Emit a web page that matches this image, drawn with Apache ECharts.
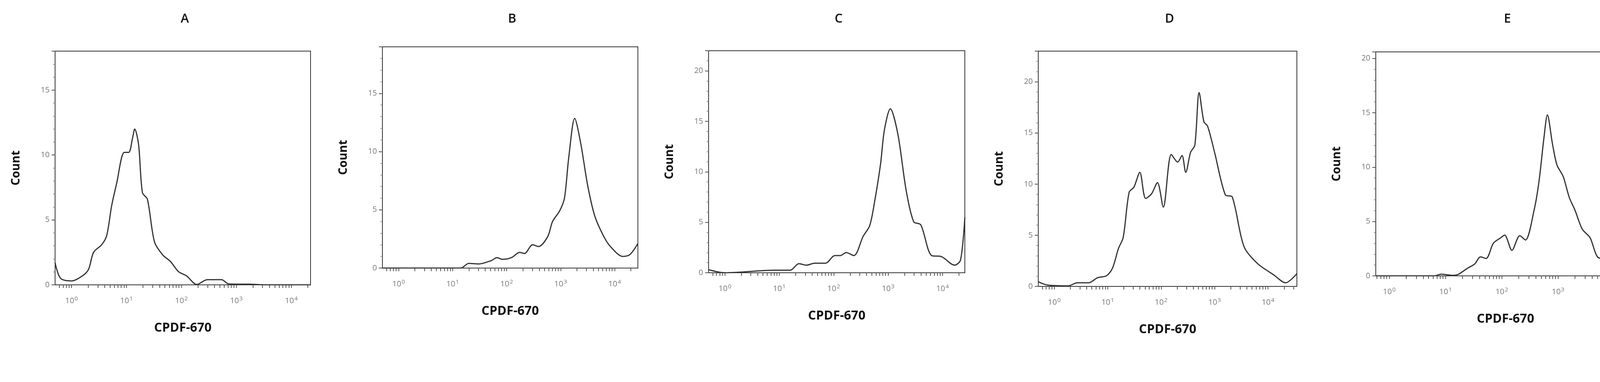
<!DOCTYPE html>
<html>
<head>
<meta charset="utf-8">
<script src="https://cdn.jsdelivr.net/npm/echarts@6/dist/echarts.min.js"></script>
<style>html,body{margin:0;background:#fff}#main{width:4215px;height:979px}</style>
</head>
<body>
<div id="main"></div>
<script>
// x values are log10 of CPDF-670 intensity (decades), y values are counts
const panelNames = ['A', 'B', 'C', 'D', 'E'];
const yMax = [18, 19, 22, 23, 20.6];
const xMin = [-0.3, -0.3, -0.3, -0.3, -0.24];
const xMax = [4.35, 4.43, 4.41, 4.54, 4.37];

const histA = [[-0.3,1.7],[-0.2,0.5],[0,0.3],[0.2,0.7],[0.31,1.2],[0.4,2.5],[0.55,3.1],[0.64,3.8],[0.73,6.1],[0.82,7.8],[0.96,10.2],[1.04,10.2],[1.11,11.3],[1.15,12.0],[1.22,10.8],[1.29,7.1],[1.38,6.6],[1.51,3.3],[1.66,2.3],[1.8,1.8],[1.95,1.0],[2.09,0.7],[2.28,0.03],[2.47,0.4],[2.73,0.4],[2.86,0.07],[3.23,0.05],[3.55,0],[4.35,0]];
const histB = [[-0.3,0],[1.15,0],[1.3,0.4],[1.48,0.35],[1.72,0.65],[1.82,0.9],[1.92,0.75],[2.09,0.9],[2.24,1.35],[2.33,1.25],[2.48,2.0],[2.59,1.85],[2.76,2.7],[2.85,4.0],[2.98,4.9],[3.07,6.0],[3.15,9.5],[3.26,12.85],[3.37,10.75],[3.5,7.1],[3.63,4.5],[3.8,2.7],[3.93,1.8],[4.15,1.0],[4.28,1.15],[4.43,2.1]];
const histC = [[-0.3,0.3],[0,0],[0.92,0.25],[1.2,0.25],[1.36,0.9],[1.5,0.75],[1.65,0.95],[1.85,0.95],[2.02,1.7],[2.12,1.7],[2.23,2.0],[2.37,1.7],[2.54,3.6],[2.66,4.65],[2.75,7.0],[2.86,10.75],[2.93,14.1],[3.04,16.25],[3.18,13.7],[3.33,8.2],[3.47,5.05],[3.6,4.75],[3.8,1.7],[3.98,1.6],[4.22,0.75],[4.33,1.25],[4.41,5.5]];
const histD = [[-0.3,0.45],[-0.13,0.13],[0.26,0.05],[0.43,0.35],[0.64,0.35],[0.81,0.85],[0.98,1.05],[1.09,1.8],[1.2,3.7],[1.29,4.8],[1.4,9.2],[1.49,9.7],[1.6,11.15],[1.71,8.6],[1.82,9.05],[1.93,10.15],[2.04,7.75],[2.19,12.9],[2.31,12.15],[2.39,12.8],[2.46,11.15],[2.55,13.1],[2.63,13.8],[2.71,18.95],[2.8,16.1],[2.87,15.65],[3.0,13.1],[3.2,8.95],[3.33,8.75],[3.55,3.9],[3.8,2.25],[4.1,1.15],[4.33,0.35],[4.54,1.25]];
const histE = [[-0.24,0],[0.8,0],[0.92,0.15],[1.13,0.05],[1.23,0.15],[1.39,0.7],[1.52,1.1],[1.62,1.75],[1.72,1.6],[1.85,3.0],[1.98,3.5],[2.05,3.75],[2.18,2.35],[2.32,3.7],[2.42,3.3],[2.57,5.95],[2.66,8.65],[2.75,12.75],[2.81,14.8],[2.9,12.15],[2.98,10.2],[3.09,9.15],[3.2,7.2],[3.3,6.05],[3.43,4.3],[3.57,3.5],[3.7,1.75],[3.87,1.45],[4.2,0.6],[4.37,1.85]];
const histograms = [histA, histB, histC, histD, histE];

const decadeTicks = [0, 1, 2, 3, 4];

// plot frames in page pixels: [left, top, right, bottom]
const frames = [
    [141, 131, 795, 730],
    [979, 120, 1633, 687],
    [1814, 130, 2470, 699],
    [2658, 131, 3320, 734],
    [3522, 133, 4186, 707]
];

const minorX = [];
for (let d = -1; d <= 4; d++) {
    for (let m = 2; m <= 9; m++) minorX.push(d + Math.log10(m));
}

const chart = echarts.init(document.getElementById('main'));
const grid = [], xAxis = [], yAxis = [], series = [], title = [];

frames.forEach((f, i) => {
    const xs = minorX.filter(v => v >= xMin[i] && v <= xMax[i]);
    grid.push({
        left: f[0], top: f[1], width: f[2] - f[0], height: f[3] - f[1],
        show: true, borderColor: '#333', borderWidth: 2, backgroundColor: '#fff'
    });
    title.push({
        text: panelNames[i], left: (f[0] + f[2]) / 2, top: 28, textAlign: 'center',
        textStyle: { fontFamily: 'Open Sans', fontSize: 32, fontWeight: 600, color: '#111' }
    });
    xAxis.push({
        type: 'value', gridIndex: i, min: xMin[i], max: xMax[i],
        name: 'CPDF-670', nameLocation: 'middle', nameGap: 95,
        nameTextStyle: { fontFamily: 'Open Sans', fontSize: 32, fontWeight: 'bold', color: '#111' },
        axisLine: { onZero: false, lineStyle: { color: '#333', width: 2 } },
        axisTick: { customValues: decadeTicks.concat(xs), length: 8, lineStyle: { color: '#555', width: 2 } },
        splitLine: { show: false },
        axisLabel: {
            customValues: decadeTicks, margin: 28, color: '#777',
            formatter: v => '{b|10}{s|' + Math.round(v) + '}',
            rich: {
                b: { fontFamily: 'Open Sans', fontSize: 20, color: '#777' },
                s: { fontFamily: 'Open Sans', fontSize: 15, color: '#777', verticalAlign: 'top', padding: [0, 0, 12, 1] }
            }
        }
    });
    yAxis.push({
        type: 'value', gridIndex: i, min: 0, max: yMax[i], interval: 5,
        name: 'Count', nameLocation: 'middle', nameGap: 85,
        nameTextStyle: { fontFamily: 'Open Sans', fontSize: 30, fontWeight: 'bold', color: '#111' },
        axisLine: { show: true, onZero: false, lineStyle: { color: '#333', width: 2 } },
        axisTick: { show: true, length: 9, lineStyle: { color: '#555', width: 2 } },
        minorTick: { show: true, splitNumber: 5, length: 5, lineStyle: { color: '#777', width: 1.5 } },
        splitLine: { show: false },
        axisLabel: { margin: 14, fontFamily: 'Open Sans', fontSize: 20, color: '#777', showMaxLabel: false }
    });
    series.push({
        type: 'line', xAxisIndex: i, yAxisIndex: i, data: histograms[i],
        smooth: 0.3, showSymbol: false, clip: true,
        lineStyle: { color: '#333', width: 3 }
    });
});

chart.setOption({ animation: false, title, grid, xAxis, yAxis, series });
</script>
</body>
</html>
